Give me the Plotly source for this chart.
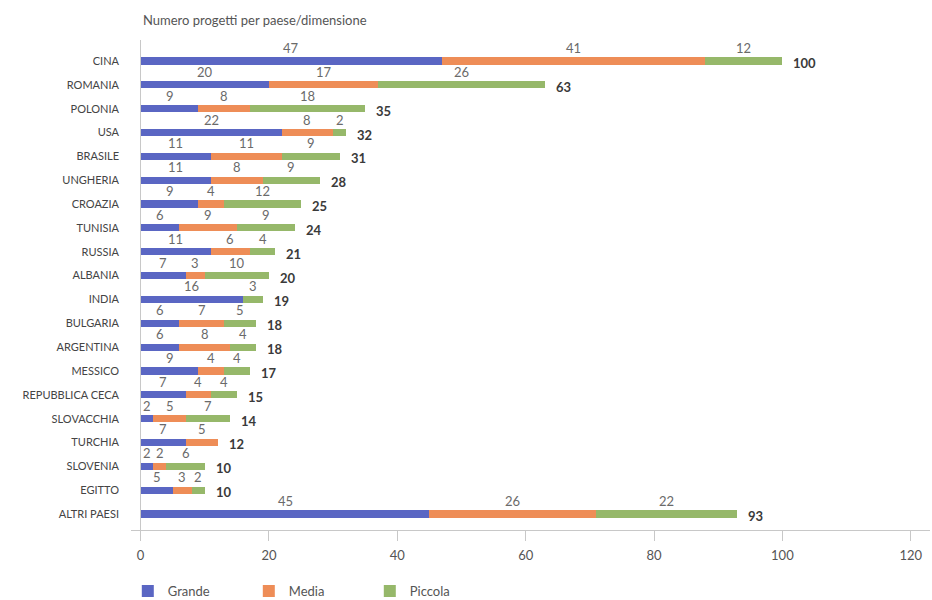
import plotly.graph_objects as go

countries = ["CINA", "ROMANIA", "POLONIA", "USA", "BRASILE", "UNGHERIA", "CROAZIA",
             "TUNISIA", "RUSSIA", "ALBANIA", "INDIA", "BULGARIA", "ARGENTINA", "MESSICO",
             "REPUBBLICA CECA", "SLOVACCHIA", "TURCHIA", "SLOVENIA", "EGITTO", "ALTRI PAESI"]
grande = [47, 20, 9, 22, 11, 11, 9, 6, 11, 7, 16, 6, 6, 9, 7, 2, 7, 2, 5, 45]
media = [41, 17, 8, 8, 11, 8, 4, 9, 6, 3, 0, 7, 8, 4, 4, 5, 5, 2, 3, 26]
piccola = [12, 26, 18, 2, 9, 9, 12, 9, 4, 10, 3, 5, 4, 4, 4, 7, 0, 6, 2, 22]
series_names = ["Grande", "Media", "Piccola"]
x_ticks = [0, 20, 40, 60, 80, 100, 120]

colors = ["#5a66c3", "#ee8d57", "#96b86a"]
FONT = "Lato"

fig = go.Figure()
series = [grande, media, piccola]
for name, vals, col in zip(series_names, series, colors):
    fig.add_trace(go.Bar(
        y=countries, x=vals, name=name, orientation="h",
        marker=dict(color=col, line=dict(width=0)), width=0.3,
    ))

annotations = []
for i, c in enumerate(countries):
    start = 0
    for vals in series:
        v = vals[i]
        if v > 0:
            annotations.append(dict(
                x=start + v / 2, y=c, text=str(v), showarrow=False,
                yshift=13, font=dict(family=FONT, size=13, color="#6a6a6a"),
            ))
        start += v
    total = grande[i] + media[i] + piccola[i]
    annotations.append(dict(
        x=total, y=c, text="<b>%d</b>" % total, showarrow=False,
        xanchor="left", xshift=9, yshift=-2,
        font=dict(family=FONT, size=13, color="#3a3a3a"),
    ))

fig.update_layout(
    barmode="stack",
    width=932, height=600,
    margin=dict(l=131, r=2, t=40, b=70),
    paper_bgcolor="white", plot_bgcolor="white",
    font=dict(family=FONT, size=12, color="#555555"),
    title=dict(text="Numero progetti per paese/dimensione", x=(143 - 131) / 799,
               xref="paper", xanchor="left", yref="container", y=1 - 20 / 600,
               yanchor="middle", font=dict(family=FONT, size=13, color="#555555")),
    xaxis=dict(range=[-1.5, 123], tickvals=x_ticks, showgrid=False,
               zeroline=True, zerolinecolor="#c8c8c8", zerolinewidth=1,
               showline=True, linecolor="#c8c8c8", linewidth=1,
               ticks="outside", ticklen=10, tickcolor="#c8c8c8", ticklabelstandoff=3,
               tickfont=dict(family=FONT, size=13, color="#555555")),
    yaxis=dict(type="category", range=[19.67, -0.88], showgrid=False,
               zeroline=False, showline=False, ticks="", ticklabelstandoff=11,
               tickfont=dict(family=FONT, size=11, color="#444444")),
    legend=dict(orientation="h", x=-0.004, xanchor="left", xref="paper",
                yref="container", y=1 - 591 / 600, yanchor="middle",
                traceorder="normal", entrywidth=76,
                font=dict(family=FONT, size=13, color="#555555")),
    annotations=annotations,
    showlegend=True,
)

fig.write_html("out.html", config={"displayModeBar": False},
               post_script="document.body.style.margin='0';document.body.style.overflow='hidden';")
